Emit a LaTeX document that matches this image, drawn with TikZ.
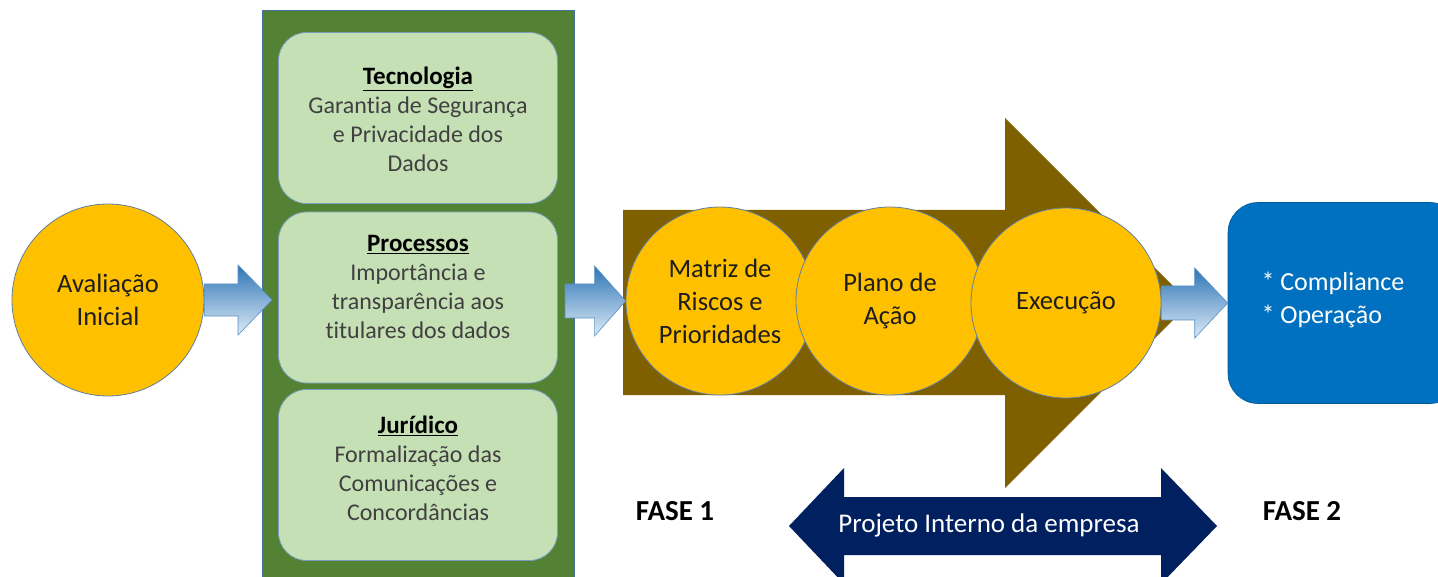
\documentclass[tikz,border=0pt]{standalone}
\usepackage{fontspec}
\setmainfont{Carlito}[Ligatures=NoCommon]
\usetikzlibrary{calc}
\definecolor{gold}{RGB}{255,192,0}
\definecolor{brownarr}{RGB}{127,96,0}
\definecolor{panelgreen}{RGB}{84,130,53}
\definecolor{lightgreen}{RGB}{197,224,180}
\definecolor{boxblue}{RGB}{0,112,192}
\definecolor{navy}{RGB}{0,32,96}
\definecolor{edgeblue}{RGB}{65,113,156}
\definecolor{circedge}{RGB}{96,128,160}
\definecolor{arrtop}{RGB}{46,117,182}
\definecolor{arrbot}{RGB}{222,235,247}
\definecolor{txt}{RGB}{30,30,30}
\definecolor{boxtxt}{RGB}{64,64,64}
\newcommand\blockarrow[5]{%
  \draw[bluearrow] ([yshift=#3]#1) -- ([xshift=-#5,yshift=#3]#2) -- ([xshift=-#5,yshift=#4]#2) -- (#2) -- ([xshift=-#5,yshift=-#4]#2) -- ([xshift=-#5,yshift=-#3]#2) -- ([yshift=-#3]#1) -- cycle;}
\newcommand\boxhead[1]{\textcolor{black}{{\fontsize{25}{29}\selectfont\underline{\textbf{#1}}}}}
\begin{document}
\begin{tikzpicture}[x=1pt,y=-1pt,
  goldcirc/.style={circle, fill=gold, draw=circedge, line width=0.8pt, minimum size=#1, inner sep=0pt, align=center, text=txt, font=\fontsize{26.5}{33}\selectfont},
  panelbox/.style={rectangle, fill=panelgreen, draw=edgeblue, line width=0.6pt, minimum width=312, minimum height=600, inner sep=0pt},
  greenbox/.style={rectangle, rounded corners=28, fill=lightgreen, draw=edgeblue!70, line width=0.8pt, minimum width=279, minimum height=171, inner sep=0pt},
  boxtext/.style={align=center, text=boxtxt, font=\fontsize{24}{29}\selectfont},
  bluearrow/.style={draw=arrtop!80, line width=0.6pt, top color=arrtop, bottom color=arrbot},
  fase/.style={font=\fontsize{29}{32}\selectfont\bfseries, text=black}
]
\useasboundingbox (0,0) rectangle (1438,577);
\clip (0,0) rectangle (1438,577);

% left circle
\node[goldcirc=192] (aval) at (108,300) {Avaliação\\Inicial};

% green panel with three boxes
\node[panelbox] (panel) at (418,310) {};
\node[greenbox] (b1) at (418,118) {};
\node[greenbox] (b2) at (418,297.5) {};
\node[greenbox] (b3) at (418,475) {};
\node[boxtext] (t1) at (418,119) {\boxhead{Tecnologia}\\Garantia de Segurança\\e Privacidade dos\\Dados};
\node[boxtext] (t2) at (418,287) {\boxhead{Processos}\\Importância e\\transparência aos\\titulares dos dados};
\node[boxtext] (t3) at (418,468) {\boxhead{Jurídico}\\Formalização das\\Comunicações e\\Concordâncias};

% big brown arrow
\fill[brownarr] (623,210) -- (1005,210) -- (1005,118) -- (1190,303) -- (1005,488) -- (1005,395) -- (623,395) -- cycle;

% process circles
\node[goldcirc=188] (matriz) at (720,301) {Matriz de\\Riscos e\\Prioridades};
\node[goldcirc=188] (plano) at (890,301) {Plano de\\Ação};
\node[goldcirc=190] (exec) at (1066,303) {Execução};

% blue result box
\node[rectangle, rounded corners=30, fill=boxblue, draw=boxblue!80!black, line width=0.6pt, minimum width=232, minimum height=201, inner sep=0pt] (res) at (1344,303) {};
\node[anchor=west, align=left, text=white, font=\fontsize{26}{33}\selectfont] (restext) at (1258,300) {* Compliance\\* Operação};

% block arrows
\coordinate (a1t) at (272,300);
\blockarrow{aval.east}{a1t}{16}{35}{34}
\coordinate (a2s) at (565,301);
\blockarrow{a2s}{matriz.west}{17}{35}{31}
\blockarrow{exec.east}{res.west}{17}{35}{33}

% phase labels
\node[fase] (f1) at (675,511) {FASE 1};
\node[fase] (f2) at (1302,511) {FASE 2};

% double arrow
\fill[navy] (789,526) -- (844,468) -- (844,497) -- (1161,497) -- (1161,468) -- (1217,526) -- (1161,584) -- (1161,555) -- (844,555) -- (844,584) -- cycle;
\node[text=white, font=\fontsize{27}{30}\selectfont] (proj) at (989,525) {Projeto Interno da empresa};
\end{tikzpicture}
\end{document}
